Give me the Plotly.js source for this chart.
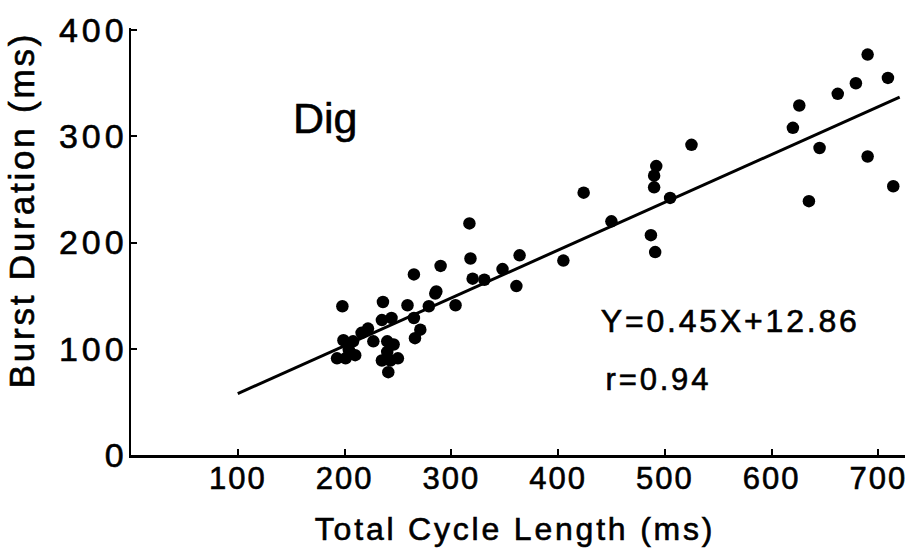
<!DOCTYPE html>
<html>
<head>
<meta charset="utf-8">
<script src="https://cdn.plot.ly/plotly-3.0.1.min.js"></script>
<style>
  html, body { margin: 0; padding: 0; background: #fff; }
  #chart { width: 913px; height: 548px; }
  /* heavy strokes and wide tracking for the labels */
  #chart text { stroke: #000; stroke-width: 0.6px; }
  #chart .xtick text { letter-spacing: 2px; }
  #chart .ytick text { letter-spacing: 4px; }
  #chart .annotation text { letter-spacing: 2.8px; }
  #chart .annotation[data-index="0"] text { letter-spacing: 0px; }
</style>
</head>
<body>
<div id="chart"></div>
<script>
// Total cycle length (ms) for each burst
const cycleLength = [
  198, 236, 259, 285, 279, 235, 244, 265, 222, 216, 271, 266, 199, 208,
  227, 240, 204, 210, 193, 201, 246, 240, 235, 250, 243, 241,
  317, 265, 290, 318, 320, 331, 348, 364, 361, 405, 286, 304,
  424, 492, 490, 490, 505, 450, 487, 491,
  690, 709, 679, 662, 626, 620, 645, 525, 690, 714, 635
];
// Burst duration (ms) for each burst
const burstDuration = [
  140, 144, 141, 152, 140, 127, 129, 129, 119, 115, 118, 110, 108, 107,
  107, 107, 99, 94, 91, 91, 104, 97, 89, 91, 89, 78,
  218, 170, 178, 185, 166, 165, 175, 188, 159, 183, 154, 141,
  247, 272, 263, 252, 242, 220, 207, 191,
  377, 355, 350, 340, 329, 308, 289, 292, 281, 253, 239
];

// Linear regression reported on the chart
const slope = 0.45;
const intercept = 12.86;
const rValue = 0.94;
const fitRange = [100, 720];

const xTicks = [100, 200, 300, 400, 500, 600, 700];
const yTicks = [0, 100, 200, 300, 400];

const fitY = fitRange.map(x => slope * x + intercept);

const fontFamily = '"Liberation Sans", Arial, Helvetica, sans-serif';

const traces = [
  {
    x: fitRange,
    y: fitY,
    type: 'scatter',
    mode: 'lines',
    line: { color: '#000', width: 3 },
    hoverinfo: 'skip'
  },
  {
    x: cycleLength,
    y: burstDuration,
    type: 'scatter',
    mode: 'markers',
    marker: { color: '#000', size: 12.5 }
  }
];

const layout = {
  width: 913,
  height: 548,
  margin: { l: 131, r: 8, t: 28, b: 93 },
  paper_bgcolor: '#fff',
  plot_bgcolor: '#fff',
  showlegend: false,
  font: { family: fontFamily, color: '#000' },
  xaxis: {
    range: [0, 725],
    tickvals: xTicks,
    ticktext: xTicks.map(String),
    ticks: 'inside',
    ticklen: 6,
    tickwidth: 2,
    tickcolor: '#000',
    showline: true,
    linecolor: '#000',
    linewidth: 3,
    showgrid: false,
    zeroline: false,
    tickfont: { size: 31, family: fontFamily, color: '#000' },
    ticklabelstandoff: -6
  },
  yaxis: {
    range: [0, 402],
    tickvals: yTicks,
    ticktext: yTicks.map(String),
    ticks: 'inside',
    ticklen: 6,
    tickwidth: 2,
    tickcolor: '#000',
    showline: true,
    linecolor: '#000',
    linewidth: 2.5,
    showgrid: false,
    zeroline: false,
    tickfont: { size: 34, family: fontFamily, color: '#000' },
    ticklabelstandoff: -6
  },
  annotations: [
    {
      text: 'Dig',
      xref: 'x', yref: 'y',
      x: 182, y: 317,
      showarrow: false,
      xanchor: 'center', yanchor: 'middle',
      font: { size: 43, family: fontFamily, color: '#000' }
    },
    {
      text: 'Y=' + slope.toFixed(2) + 'X+' + intercept.toFixed(2),
      xref: 'x', yref: 'y',
      x: 455, y: 126,
      showarrow: false,
      xanchor: 'left', yanchor: 'middle',
      font: { size: 32, family: fontFamily, color: '#000' }
    },
    {
      text: 'r=' + rValue.toFixed(2),
      xref: 'x', yref: 'y',
      x: 451, y: 71,
      showarrow: false,
      xanchor: 'left', yanchor: 'middle',
      font: { size: 31, family: fontFamily, color: '#000' }
    },
    {
      text: 'Total Cycle Length (ms)',
      xref: 'paper', yref: 'paper',
      x: 0.496, y: -0.173,
      showarrow: false,
      xanchor: 'center', yanchor: 'middle',
      font: { size: 32, family: fontFamily, color: '#000' }
    },
    {
      text: 'Burst Duration (ms)',
      xref: 'paper', yref: 'paper',
      x: -0.141, y: 0.574,
      textangle: -90,
      showarrow: false,
      xanchor: 'center', yanchor: 'middle',
      font: { size: 35, family: fontFamily, color: '#000' }
    }
  ]
};

Plotly.newPlot('chart', traces, layout, { staticPlot: true, displayModeBar: false });
</script>
</body>
</html>
